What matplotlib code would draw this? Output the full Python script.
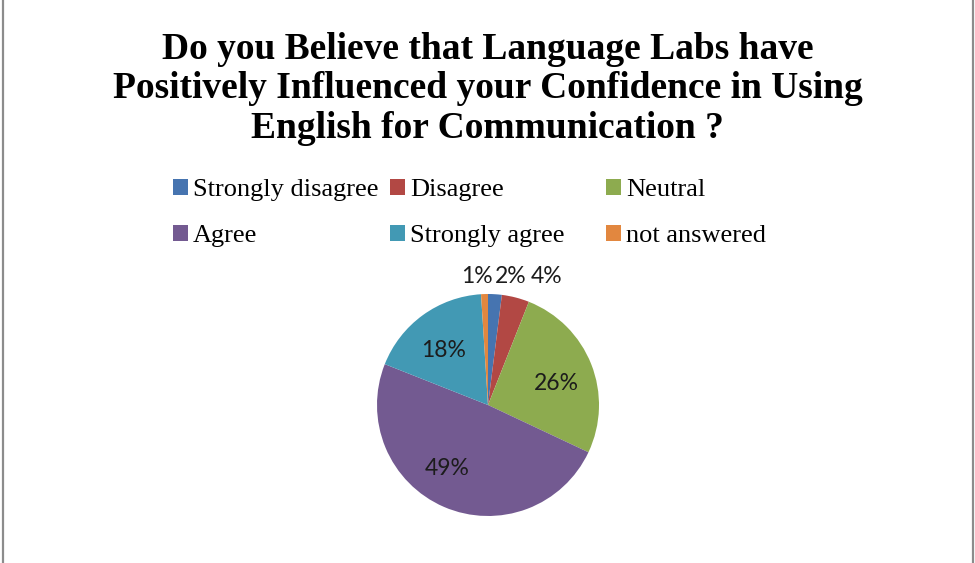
import numpy as np
import matplotlib.pyplot as plt
from matplotlib.lines import Line2D
from matplotlib.patches import Patch

categories = ["Strongly disagree", "Disagree", "Neutral", "Agree", "Strongly agree", "not answered"]
shares = [2, 4, 26, 49, 18, 1]
colors = ["#4674B0", "#B24844", "#8DAB4F", "#735A91", "#4299B4", "#E2873F"]

# label placement: radius along the wedge's mid angle, then a nudge in pixels
label_r = [1.17, 1.17, 0.64, 0.64, 0.64, 1.17]
label_nudge = [(15, -1), (26, 3), (2, -5), (-13, 2), (-3, -3), (-7, -1)]

title = "Do you Believe that Language Labs have\nPositively Influenced your Confidence in Using\nEnglish for Communication ?"

W, H = 975, 563
fig = plt.figure(figsize=(W / 100, H / 100), dpi=100)

fig.text(0.5, 0.944, title, ha="center", va="top", family="Liberation Serif",
         fontweight="bold", fontsize=27, linespacing=1.18)

# pie
cx, cy, r = 488, 405, 111
ax = fig.add_axes([(cx - r) / W, (H - cy - r) / H, 2 * r / W, 2 * r / H])
wedges, _ = ax.pie(shares, colors=colors, startangle=90, counterclock=False,
                   radius=1.0, wedgeprops=dict(linewidth=0))
ax.set_xlim(-1, 1)
ax.set_ylim(-1, 1)
ax.set_aspect("equal")
ax.axis("off")

for w, val, rr, (dx, dy) in zip(wedges, shares, label_r, label_nudge):
    ang = np.deg2rad((w.theta1 + w.theta2) / 2)
    x, y = rr * np.cos(ang), rr * np.sin(ang)
    ax.annotate(f"{val}%", (x, y), xytext=(dx * 0.72, dy * 0.72),
                textcoords="offset points", ha="center", va="center",
                fontsize=16.5, family="Lato", color="#1c1c1c",
                annotation_clip=False)

# legend: three columns of two entries
columns = [[0, 3], [1, 4], [2, 5]]
col_x = [173, 390, 606]
for idx, x0 in zip(columns, col_x):
    handles = [Patch(facecolor=colors[i], edgecolor="none") for i in idx]
    fig.legend(handles, [categories[i] for i in idx], loc="upper left",
               bbox_to_anchor=(x0 / W, 1 - 179 / H), frameon=False,
               prop=dict(family="Liberation Serif", size=19),
               handlelength=0.57, handleheight=0.57, handletextpad=0.19,
               labelspacing=0.89, borderpad=0, borderaxespad=0)

# chart border on the sides
for xf in (2.5 / W, 972.5 / W):
    fig.add_artist(Line2D([xf, xf], [0, 1], color="#8c8c8c", linewidth=1.6))

fig.savefig("out.png", dpi=100, facecolor="white")
